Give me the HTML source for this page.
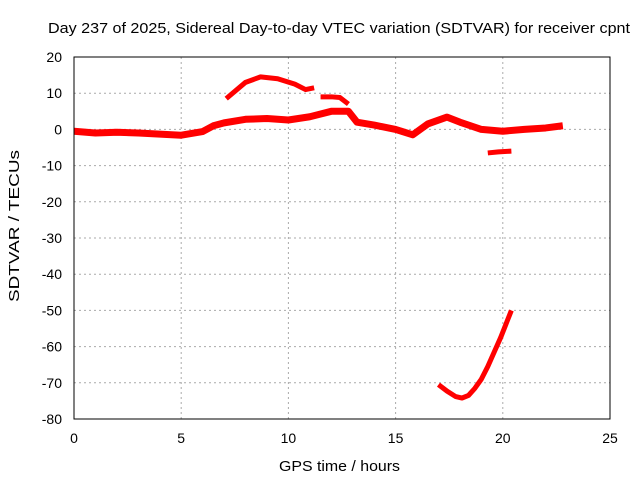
<!DOCTYPE html>
<html><head><meta charset="utf-8"><style>
body{margin:0;background:#fff;}
text{font-family:"Liberation Sans",sans-serif;font-size:14px;fill:#000;}
</style></head><body>
<svg id="chart" width="640" height="480">
<text x="48" y="33" textLength="582" lengthAdjust="spacingAndGlyphs" style="font-size:15px">Day 237 of 2025, Sidereal Day-to-day VTEC variation (SDTVAR) for receiver cpnt</text>
<g id="grid"></g><g id="series"></g><g id="axes"></g>
<text x="279" y="471" textLength="121" lengthAdjust="spacingAndGlyphs" style="font-size:15px">GPS time / hours</text>
<text transform="translate(19,302) rotate(-90)" textLength="152" lengthAdjust="spacingAndGlyphs" style="font-size:15px">SDTVAR / TECUs</text>
</svg>
<script>
const xTicks=[0,5,10,15,20,25];
const yTicks=[20,10,0,-10,-20,-30,-40,-50,-60,-70,-80];
const mainT=[0,1,2,3,4,5,6,6.5,7,8,9,10,11,12,12.8,13.2,14,15,15.8,16.5,17.4,18,19,20,21,22,22.8];
const mainV=[-0.5,-1,-0.8,-1,-1.3,-1.6,-0.6,1,1.8,2.8,3,2.6,3.5,5,5,2,1.2,0,-1.5,1.5,3.4,2,0,-0.5,0,0.4,1];
const arcT=[7.1,7.6,8,8.7,9.5,10.3,10.8,11.2];
const arcV=[8.5,11,13,14.5,14,12.5,11,11.5];
const bitT=[11.5,12,12.4,12.8];
const bitV=[9,9,8.8,7];
const lowT=[19.3,19.8,20.4];
const lowV=[-6.5,-6.2,-6];
const dipT=[17,17.4,17.8,18.1,18.4,18.7,19,19.3,19.6,19.9,20.2,20.4];
const dipV=[-70.5,-72.3,-73.8,-74.2,-73.5,-71.5,-69,-65.5,-61.5,-57.5,-53,-50];
const X0=74,X1=610,Y0=57,Y1=419;
const xs=t=>X0+(t-0)/25*(X1-X0);
const ys=v=>Y0+(20-v)/100*(Y1-Y0);
const NS='http://www.w3.org/2000/svg';
function mk(tag,parent){const e=document.createElementNS(NS,tag);document.getElementById(parent).appendChild(e);return e;}
xTicks.forEach(t=>{
 if(t>0&&t<25){const g=mk('line','grid');g.setAttribute('x1',xs(t));g.setAttribute('x2',xs(t));g.setAttribute('y1',Y0);g.setAttribute('y2',Y1);g.setAttribute('stroke','#aaa');g.setAttribute('stroke-dasharray','2,3');
 
 }
 const l=mk('text','axes');l.setAttribute('x',xs(t));l.setAttribute('y',Y1+24);l.setAttribute('text-anchor','middle');l.textContent=t;
 
 
});
yTicks.forEach(v=>{
 if(v<20&&v>-80){const g=mk('line','grid');g.setAttribute('x1',X0);g.setAttribute('x2',X1);g.setAttribute('y1',ys(v));g.setAttribute('y2',ys(v));g.setAttribute('stroke','#aaa');g.setAttribute('stroke-dasharray','2,3');
 
 }
 const l=mk('text','axes');l.setAttribute('x',X0-12);l.setAttribute('y',ys(v)+5);l.setAttribute('text-anchor','end');l.textContent=v;
 
 
});
const f=mk('rect','axes');f.setAttribute('x',X0);f.setAttribute('y',Y0);f.setAttribute('width',X1-X0);f.setAttribute('height',Y1-Y0);f.setAttribute('fill','none');f.setAttribute('stroke','#000');


function line(T,V,w,name){const p=mk('polyline','series');p.setAttribute('points',T.map((t,i)=>xs(t)+','+ys(V[i])).join(' '));p.setAttribute('fill','none');p.setAttribute('stroke','#f00');p.setAttribute('stroke-width',w);p.setAttribute('stroke-linejoin','round');
 
 }
line(mainT,mainV,7,'series-main');
line(arcT,arcV,5,'series-upper-arc');
line(bitT,bitV,5,'series-short-arc');
line(lowT,lowV,5,'series-negative-segment');
line(dipT,dipV,5,'series-deep-dip');
</script>
</body></html>
